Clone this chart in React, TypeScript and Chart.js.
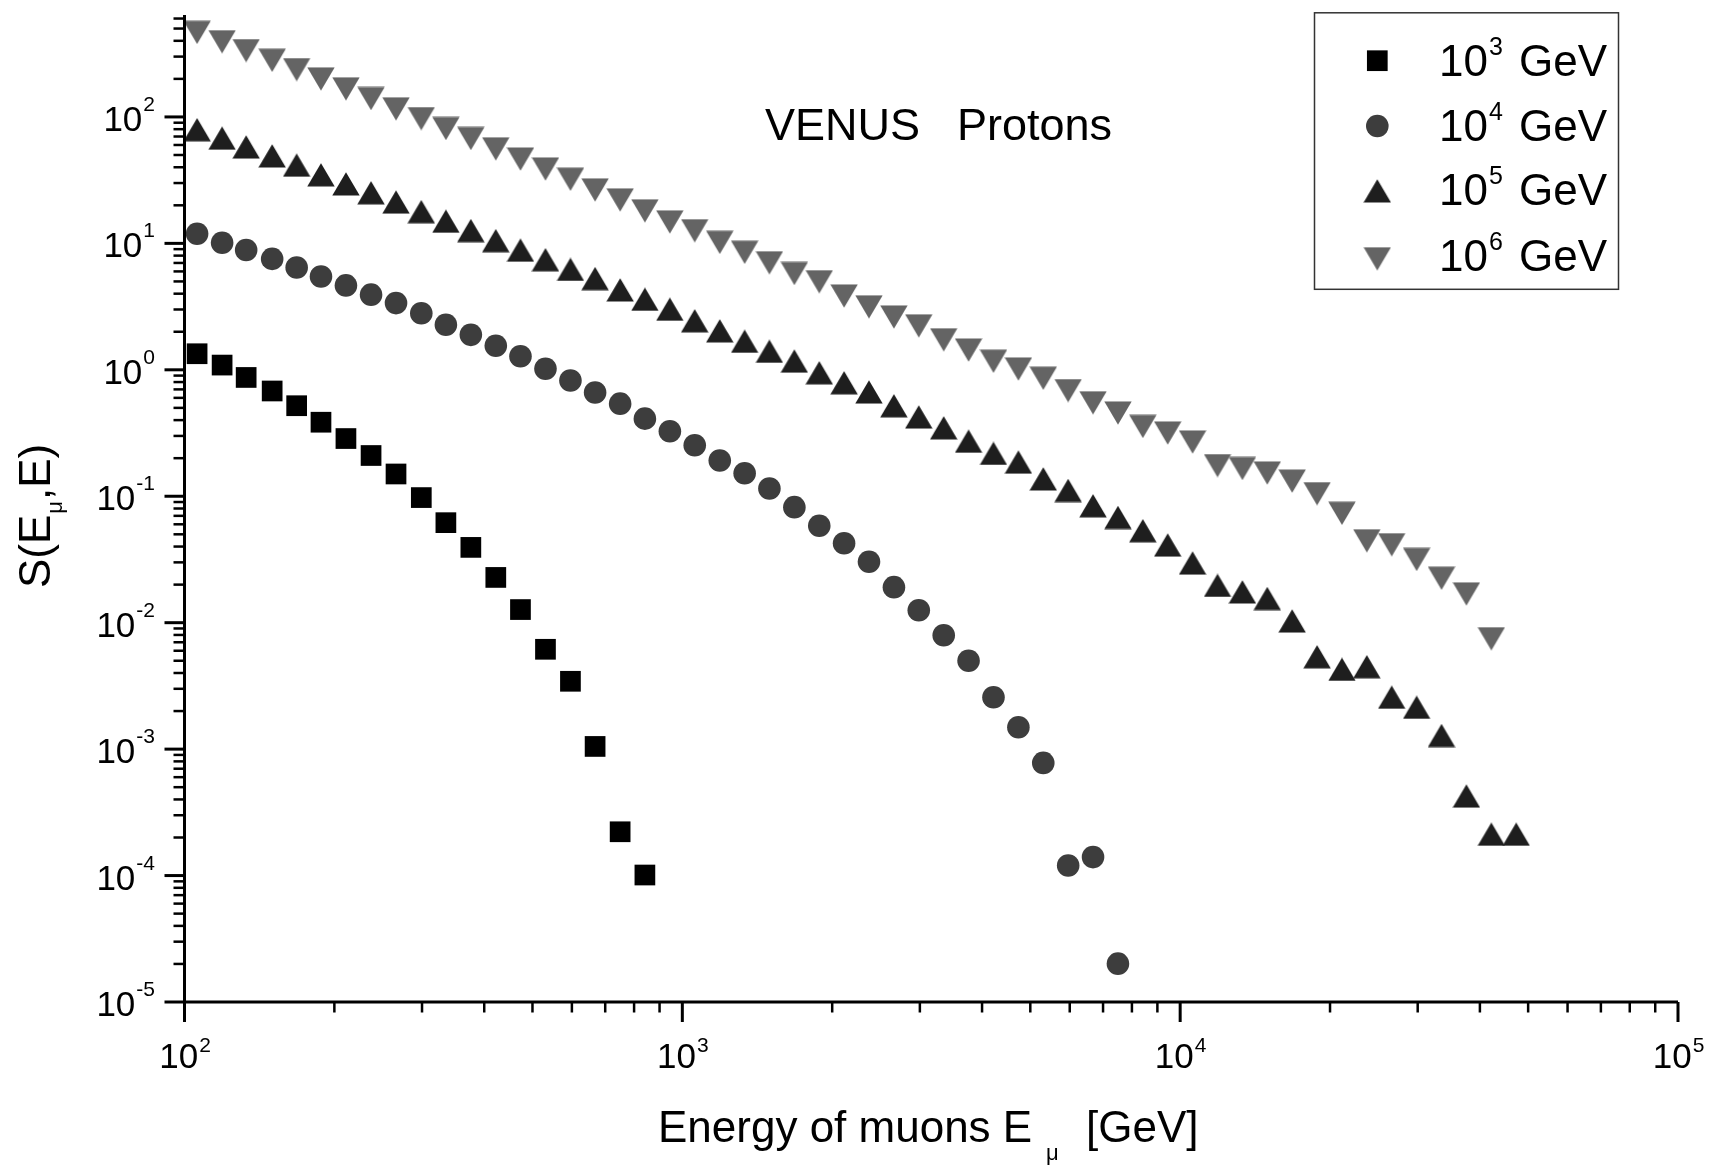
import React, { useEffect, useRef } from 'react';
import { Chart, registerables } from 'chart.js';

Chart.register(...registerables);

// Muon energies E_mu [GeV] (shared grid of the four series)
const energies = [
  106, 119, 133, 150, 168, 188, 211, 237, 266, 299, 335, 376, 422, 473, 531, 596, 668, 750, 841, 944,
  1059, 1189, 1334, 1496, 1679, 1884, 2113, 2371, 2661, 2985, 3350, 3758, 4217, 4732, 5309, 5957,
  6683, 7499, 8414, 9441, 10593, 11885, 13335, 14962, 16788, 18836, 21135, 23714, 26607, 29854,
  33497, 37584, 42170, 47315,
];

// S(E_mu, E) for primary proton energy 10^3 GeV
const s1e3 = [
  1.34, 1.09, 0.87, 0.68, 0.52, 0.385, 0.286, 0.21, 0.15, 0.0976, 0.0618, 0.0394, 0.0228, 0.0127,
  0.00616, 0.00344, 0.00105, 0.000222, 0.000101,
];

// 10^4 GeV
const s1e4 = [
  11.9, 10.1, 8.87, 7.54, 6.44, 5.47, 4.65, 3.93, 3.37, 2.8, 2.27, 1.89, 1.55, 1.28, 1.02, 0.822,
  0.662, 0.54, 0.411, 0.327, 0.253, 0.192, 0.152, 0.115, 0.082, 0.0585, 0.0425, 0.0303, 0.0191,
  0.01253, 0.00796, 0.005, 0.00257, 0.00149, 0.000778, 0.00012, 0.00014, 0.0000201,
];

// 10^5 GeV
const s1e5 = [
  79.1, 67.9, 57.8, 49.1, 41.5, 34.8, 29.5, 25.1, 21.2, 17.8, 14.95, 12.6, 10.5,
  8.83, 7.42, 6.22, 5.26, 4.28, 3.61, 3.01, 2.44, 2.03, 1.68, 1.4, 1.17, 0.946, 0.789, 0.667,
  0.519, 0.423, 0.347, 0.272, 0.218, 0.186, 0.137, 0.111, 0.084, 0.0679, 0.0533, 0.0411, 0.0296,
  0.0197, 0.0175, 0.0155, 0.0103, 0.00537, 0.00427, 0.00448, 0.00257, 0.00214, 0.00128, 0.000425,
  0.000212, 0.000212,
];

// 10^6 GeV
const s1e6 = [
  467, 394, 335, 281, 237, 200, 167, 140, 116, 97.1, 81.1, 67.6, 56.0,
  46.5, 38.8, 32.2, 26.5, 22.1, 18.1, 14.8, 12.6, 10.2, 8.51, 7.03, 5.79, 4.98, 3.84, 3.15,
  2.62, 2.23, 1.73, 1.435, 1.17, 1.017, 0.859, 0.686, 0.549, 0.456, 0.357, 0.317, 0.269,
  0.175, 0.166, 0.153, 0.132, 0.105, 0.0734, 0.0445, 0.0414, 0.0317, 0.0225, 0.0169, 0.00748,
];

const legendExponents = ['3', '4', '5', '6'];
const xMajorExps = [2, 3, 4, 5];
const yMajorExps = [-5, -4, -3, -2, -1, 0, 1, 2];
const xRange = [100, 100000];
const yRange = [1e-5, 640];

const FONT = '"Liberation Sans", Arial, Helvetica, sans-serif';
const COL_SQ = '#000000';
const COL_CI = '#3d3d3d';
const COL_UP = '#1e1e1e';
const COL_DN = '#646464';

function makeTriangle(up: boolean, color: string): HTMLCanvasElement {
  const w = 28;
  const h = 24;
  const c = document.createElement('canvas');
  c.width = w;
  c.height = h;
  const g = c.getContext('2d')!;
  g.fillStyle = color;
  g.beginPath();
  if (up) {
    g.moveTo(w / 2, 0.3);
    g.lineTo(w - 0.3, h - 0.6);
    g.lineTo(0.3, h - 0.6);
  } else {
    g.moveTo(0.3, 0.6);
    g.lineTo(w - 0.3, 0.6);
    g.lineTo(w / 2, h - 0.3);
  }
  g.closePath();
  g.fill();
  return c;
}

function toPoints(vals: number[]) {
  return vals.map((v, i) => ({ x: energies[i], y: v }));
}

function drawPower(
  ctx: CanvasRenderingContext2D,
  expText: string,
  anchorX: number,
  baseY: number,
  align: 'right' | 'center' | 'left',
  baseSize: number,
  supSize: number,
  rise: number,
) {
  ctx.font = `${baseSize}px ${FONT}`;
  const w1 = ctx.measureText('10').width;
  ctx.font = `${supSize}px ${FONT}`;
  const w2 = ctx.measureText(expText).width;
  const total = w1 + w2;
  let x0 = anchorX;
  if (align === 'right') x0 = anchorX - total;
  else if (align === 'center') x0 = anchorX - total / 2;
  ctx.textAlign = 'left';
  ctx.textBaseline = 'alphabetic';
  ctx.font = `${baseSize}px ${FONT}`;
  ctx.fillText('10', x0, baseY);
  ctx.font = `${supSize}px ${FONT}`;
  ctx.fillText(expText, x0 + w1 + 1, baseY - rise);
  return x0 + total;
}

export default function App() {
  const ref = useRef<HTMLCanvasElement | null>(null);

  useEffect(() => {
    const canvas = ref.current;
    if (!canvas) return;
    const triUp = makeTriangle(true, COL_UP);
    const triDn = makeTriangle(false, COL_DN);

    const decor = {
      id: 'decor',
      afterDraw(chart: any) {
        const ctx: CanvasRenderingContext2D = chart.ctx;
        const xs = chart.scales.x;
        const ys = chart.scales.y;
        const area = chart.chartArea;
        const left = area.left;
        const bottom = area.bottom;
        ctx.save();
        ctx.fillStyle = '#000';
        ctx.strokeStyle = '#000';

        // axis lines
        ctx.lineWidth = 3;
        ctx.beginPath();
        ctx.moveTo(left, area.top);
        ctx.lineTo(left, bottom);
        ctx.moveTo(left, bottom);
        ctx.lineTo(area.right, bottom);
        ctx.stroke();

        // y ticks
        for (const n of yMajorExps) {
          const yp = ys.getPixelForValue(Math.pow(10, n));
          ctx.lineWidth = 3;
          ctx.beginPath();
          ctx.moveTo(left - 20, yp);
          ctx.lineTo(left, yp);
          ctx.stroke();
          for (let m = 2; m <= 9; m++) {
            const v = m * Math.pow(10, n);
            if (v > yRange[1]) continue;
            const ym = ys.getPixelForValue(v);
            ctx.lineWidth = 2.5;
            ctx.beginPath();
            ctx.moveTo(left - 11, ym);
            ctx.lineTo(left, ym);
            ctx.stroke();
          }
          drawPower(ctx, String(n), 154, yp + 14, 'right', 35, 21, 20);
        }

        // x ticks
        for (const n of xMajorExps) {
          const xp = xs.getPixelForValue(Math.pow(10, n));
          ctx.lineWidth = 3;
          ctx.beginPath();
          ctx.moveTo(xp, bottom);
          ctx.lineTo(xp, bottom + 20);
          ctx.stroke();
          if (n < 5) {
            for (let m = 2; m <= 9; m++) {
              const xm = xs.getPixelForValue(m * Math.pow(10, n));
              ctx.lineWidth = 2.5;
              ctx.beginPath();
              ctx.moveTo(xm, bottom);
              ctx.lineTo(xm, bottom + 10.5);
              ctx.stroke();
            }
          }
          drawPower(ctx, String(n), xp, 1068, 'center', 35, 21, 16);
        }

        // axis titles
        ctx.textAlign = 'left';
        ctx.textBaseline = 'alphabetic';
        ctx.font = `44px ${FONT}`;
        ctx.fillText('Energy of muons E', 658, 1142);
        ctx.font = `22px ${FONT}`;
        ctx.fillText('\u03bc', 1046, 1160);
        ctx.font = `44px ${FONT}`;
        ctx.fillText('[GeV]', 1086, 1142);

        ctx.save();
        ctx.translate(50, 588);
        ctx.rotate(-Math.PI / 2);
        ctx.font = `44px ${FONT}`;
        ctx.fillText('S(E', 0, 0);
        const wS = ctx.measureText('S(E').width;
        ctx.font = `22px ${FONT}`;
        ctx.fillText('\u03bc', wS + 1, 12);
        const wMu = ctx.measureText('\u03bc').width;
        ctx.font = `44px ${FONT}`;
        ctx.fillText(',E)', wS + wMu + 2, 0);
        ctx.restore();

        // annotation
        ctx.font = `45px ${FONT}`;
        ctx.fillText('VENUS', 765, 140);
        ctx.fillText('Protons', 957, 140);

        // legend
        ctx.lineWidth = 1.5;
        ctx.strokeStyle = '#333';
        ctx.strokeRect(1314.5, 12.8, 304, 276.5);
        const mx = 1377.3;
        const rows = [76, 140.7, 205, 270.7];
        ctx.fillStyle = COL_SQ;
        ctx.fillRect(mx - 10.35, rows[0] - 15.3 - 10.35, 20.7, 20.7);
        ctx.fillStyle = COL_CI;
        ctx.beginPath();
        ctx.arc(mx, rows[1] - 14.7, 11.3, 0, Math.PI * 2);
        ctx.fill();
        ctx.drawImage(triUp, mx - triUp.width / 2, rows[2] - 14 - triUp.height / 2);
        ctx.drawImage(triDn, mx - triDn.width / 2, rows[3] - 12 - triDn.height / 2);
        ctx.fillStyle = '#000';
        rows.forEach((by, i) => {
          drawPower(ctx, legendExponents[i], 1439, by, 'left', 44, 25, 21);
          ctx.font = `44px ${FONT}`;
          ctx.textAlign = 'right';
          ctx.fillText('GeV', 1607, by);
          ctx.textAlign = 'left';
        });

        ctx.restore();
      },
    };

    const chart = new Chart(canvas, {
      type: 'scatter',
      data: {
        datasets: [
          {
            label: '10^3 GeV',
            data: toPoints(s1e3),
            pointStyle: 'rect',
            pointRadius: 14.64,
            pointBorderWidth: 0,
            backgroundColor: COL_SQ,
            borderColor: COL_SQ,
          },
          {
            label: '10^4 GeV',
            data: toPoints(s1e4),
            pointStyle: 'circle',
            pointRadius: 11.3,
            pointBorderWidth: 0,
            backgroundColor: COL_CI,
            borderColor: COL_CI,
          },
          {
            label: '10^5 GeV',
            data: toPoints(s1e5),
            pointStyle: triUp,
            pointRadius: 14,
            backgroundColor: COL_UP,
            borderColor: COL_UP,
          },
          {
            label: '10^6 GeV',
            data: toPoints(s1e6),
            pointStyle: triDn,
            pointRadius: 14,
            backgroundColor: COL_DN,
            borderColor: COL_DN,
          },
        ],
      },
      options: {
        animation: false,
        responsive: false,
        devicePixelRatio: 1,
        events: [],
        layout: { padding: { left: 184.5, right: 45, top: 9, bottom: 163 } },
        plugins: {
          legend: { display: false },
          tooltip: { enabled: false },
          title: { display: false },
        },
        datasets: { scatter: { clip: false } as any },
        scales: {
          x: {
            type: 'logarithmic',
            min: xRange[0],
            max: xRange[1],
            position: 'bottom',
            grid: { display: false },
            border: { display: false },
            ticks: { display: false },
            afterFit: (s: any) => {
              s.height = 0;
            },
          },
          y: {
            type: 'logarithmic',
            min: yRange[0],
            max: yRange[1],
            position: 'left',
            grid: { display: false },
            border: { display: false },
            ticks: { display: false },
            afterFit: (s: any) => {
              s.width = 0;
            },
          },
        },
      } as any,
      plugins: [decor],
    });
    return () => {
      chart.destroy();
    };
  }, []);

  return (
    <div style={{ position: 'fixed', left: 0, top: 0, width: 1723, height: 1165, background: '#fff' }}>
      <canvas ref={ref} width={1723} height={1165} style={{ display: 'block', width: 1723, height: 1165 }} />
    </div>
  );
}
